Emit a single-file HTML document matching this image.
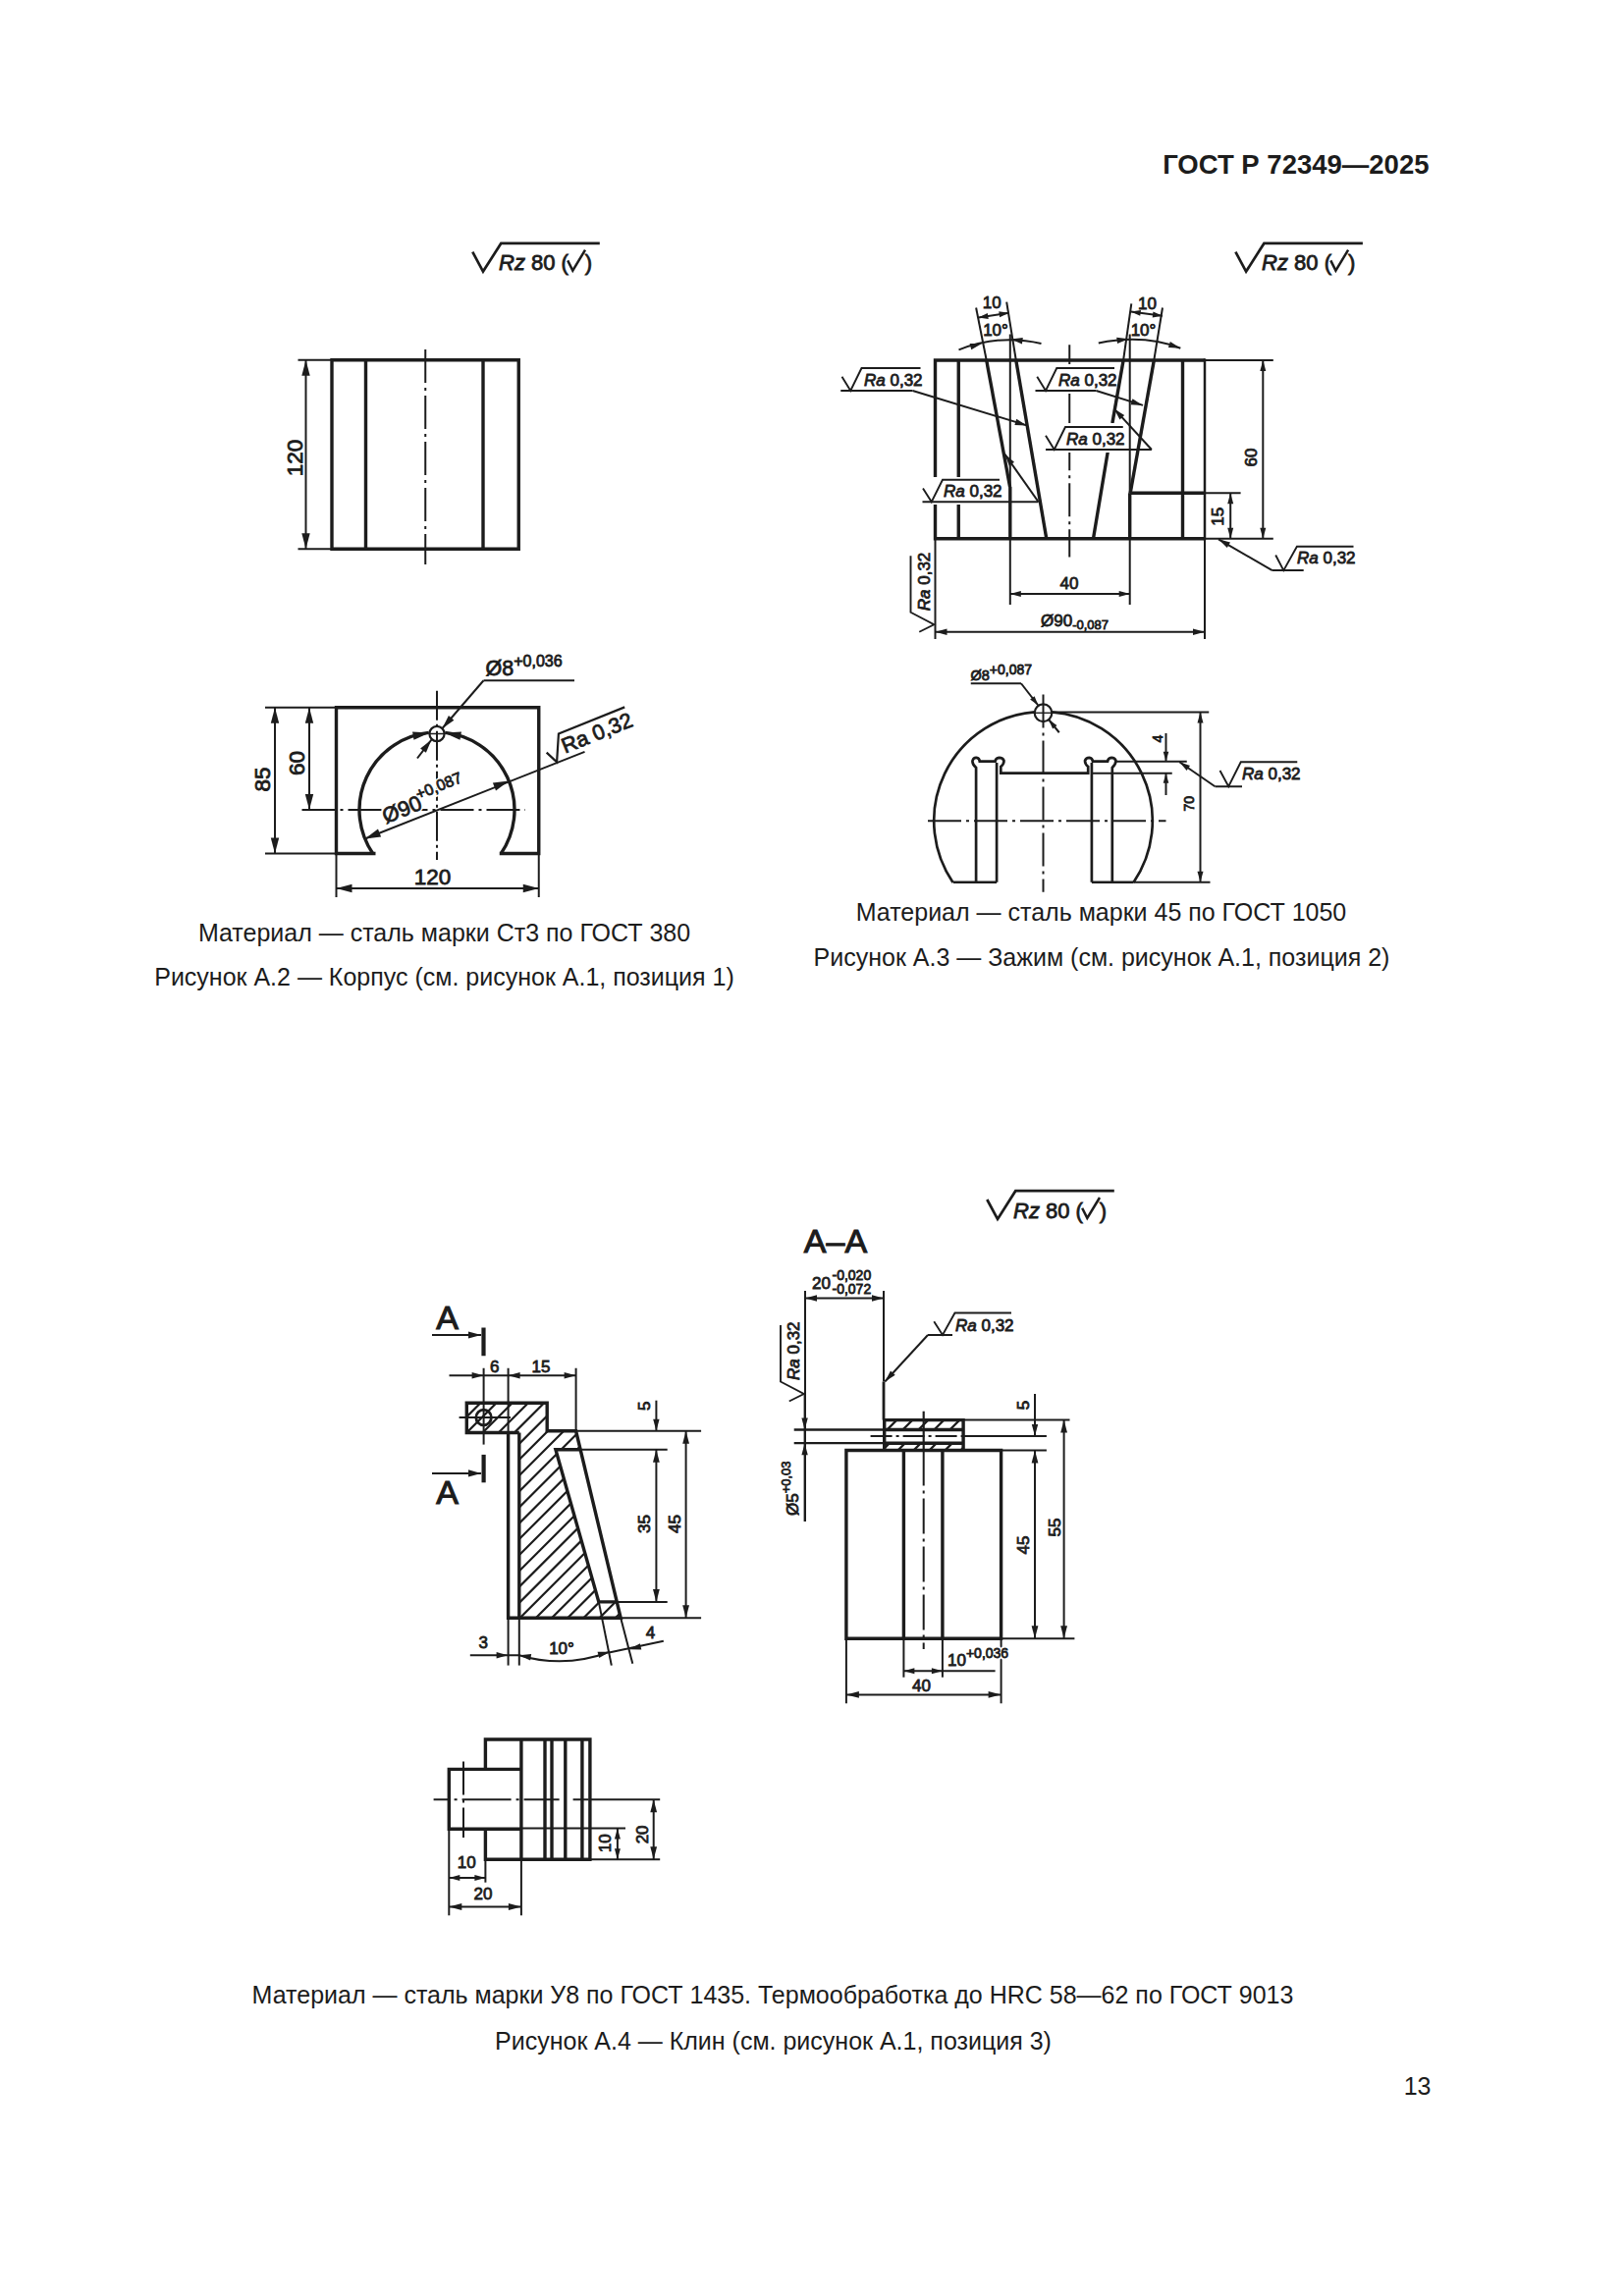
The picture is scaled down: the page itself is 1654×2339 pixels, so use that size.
<!DOCTYPE html>
<html><head><meta charset="utf-8"><style>
html,body{margin:0;padding:0;background:#fff;}
svg{display:block;}
text{font-family:"Liberation Sans",sans-serif;fill:#1c1c1c;stroke:none;}
text.d{stroke:#1c1c1c;stroke-width:0.8px;}
text.h{fill:#fff;stroke:#fff;stroke-width:4px;}
</style></head><body>
<svg width="1654" height="2339" viewBox="0 0 1654 2339" stroke="#1c1c1c" stroke-linecap="butt" fill="none">
<rect x="0" y="0" width="1654" height="2339" fill="#fff" stroke="none"/>
<g stroke="#1c1c1c">
<text x="1455.5" y="177" class="c" font-size="27.5" text-anchor="end" font-weight="bold">ГОСТ Р 72349—2025</text>
<path d="M481.3 256.7 L492 276.6 L510.3 247.9 L610.8 247.9" stroke-width="2.7" fill="none"/>
<text class="d" x="508" y="275.2" font-size="22"><tspan font-style="italic">Rz</tspan> 80 (</text>
<text class="d" x="595.8" y="275.2" font-size="22">)</text>
<path d="M578.2 265.4 L583.3 275.6 L596 254.7" stroke-width="2.5" fill="none"/>
<path d="M338 366.75 L528.25 366.75 L528.25 559.25 L338 559.25 Z" stroke-width="3.4" fill="none"/>
<line x1="372.5" y1="366.75" x2="372.5" y2="559.25" stroke-width="3.4"/>
<line x1="492" y1="366.75" x2="492" y2="559.25" stroke-width="3.4"/>
<line x1="433.25" y1="356" x2="433.25" y2="575" stroke-width="2.0" stroke-dasharray="34 5 3 5"/>
<line x1="303.5" y1="366.75" x2="338" y2="366.75" stroke-width="2.0"/>
<line x1="303.5" y1="559.25" x2="338" y2="559.25" stroke-width="2.0"/>
<line x1="311.5" y1="366.75" x2="311.5" y2="559.25" stroke-width="2.0"/>
<path d="M311.5 366.75 L315.7 382.75 L307.3 382.75 Z" stroke="none" fill="#1c1c1c"/>
<path d="M311.5 559.25 L307.3 543.25 L315.7 543.25 Z" stroke="none" fill="#1c1c1c"/>
<text transform="translate(307.7 466.6) rotate(-90)" class="d" font-size="22.5" text-anchor="middle" font-weight="normal">120</text>
<path d="M382.5 869.5 L342.5 869.5 L342.5 720.75 L548.75 720.75 L548.75 869.5 L508.75 869.5" stroke-width="3.4" fill="none"/>
<path d="M379.72 869.49 A79 79 0 0 1 436.74 746.43" stroke-width="3.4" fill="none"/>
<path d="M453.26 746.43 A79 79 0 0 1 510.28 869.49" stroke-width="3.4" fill="none"/>
<path d="M437.5 746.5 L421.53 753.67 L420.02 745.41 Z" stroke="none" fill="#1c1c1c"/>
<path d="M452.5 746.5 L469.98 745.41 L468.47 753.67 Z" stroke="none" fill="#1c1c1c"/>
<circle cx="445" cy="747.5" r="7.6" stroke-width="2.2" fill="none"/>
<line x1="437" y1="747.5" x2="453" y2="747.5" stroke-width="1.5"/>
<line x1="307.5" y1="825" x2="535" y2="825" stroke-width="2.0" stroke-dasharray="34 5 3 5"/>
<line x1="445" y1="703.75" x2="445" y2="876" stroke-width="2.0" stroke-dasharray="30 4 3 4"/>
<line x1="270" y1="720.75" x2="342.5" y2="720.75" stroke-width="2.0"/>
<line x1="270" y1="869.5" x2="342.5" y2="869.5" stroke-width="2.0"/>
<line x1="280" y1="720.75" x2="280" y2="869.5" stroke-width="2.0"/>
<path d="M280 720.75 L284.2 736.75 L275.8 736.75 Z" stroke="none" fill="#1c1c1c"/>
<path d="M280 869.5 L275.8 853.5 L284.2 853.5 Z" stroke="none" fill="#1c1c1c"/>
<line x1="315" y1="720.75" x2="315" y2="825" stroke-width="2.0"/>
<path d="M315 720.75 L319.2 736.75 L310.8 736.75 Z" stroke="none" fill="#1c1c1c"/>
<path d="M315 825 L310.8 809 L319.2 809 Z" stroke="none" fill="#1c1c1c"/>
<text transform="translate(274.5 794) rotate(-90)" class="d" font-size="22.5" text-anchor="middle" font-weight="normal">85</text>
<text transform="translate(310 777.5) rotate(-90)" class="d" font-size="22.5" text-anchor="middle" font-weight="normal">60</text>
<line x1="342.5" y1="869.5" x2="342.5" y2="914" stroke-width="2.0"/>
<line x1="548.75" y1="869.5" x2="548.75" y2="914" stroke-width="2.0"/>
<line x1="342.5" y1="905" x2="548.75" y2="905" stroke-width="2.0"/>
<path d="M342.5 905 L358.5 900.8 L358.5 909.2 Z" stroke="none" fill="#1c1c1c"/>
<path d="M548.75 905 L532.75 909.2 L532.75 900.8 Z" stroke="none" fill="#1c1c1c"/>
<text x="440.5" y="900.8" class="d" font-size="22.5" text-anchor="middle" font-weight="normal">120</text>
<line x1="371.7" y1="854.47" x2="595.5" y2="765.9" stroke-width="2.0"/>
<path d="M371.7 854.47 L384.98 844.6 L388.11 852.4 Z" stroke="none" fill="#1c1c1c"/>
<path d="M518.3 795.53 L505.02 805.4 L501.89 797.6 Z" stroke="none" fill="#1c1c1c"/>
<text class="h" transform="translate(445 825) rotate(-21.9)" font-size="21.8"><tspan x="-53.5" y="-6.2">Ø90</tspan><tspan x="-13.8" y="-16.5" font-size="16">+0,087</tspan></text>
<text class="d" transform="translate(445 825) rotate(-21.9)" font-size="21.8"><tspan x="-53.5" y="-6.2">Ø90</tspan><tspan x="-13.8" y="-16.5" font-size="16">+0,087</tspan></text>
<g transform="translate(567.1 776.4) rotate(-21.9)"><path d="M-6 -13 L0 0 L12.5 -26.2 L85 -26.2" stroke-width="2.2" fill="none"/><text class="d" x="11" y="-5" font-size="21.7">Ra 0,32</text></g>
<line x1="492.5" y1="693.25" x2="585" y2="693.25" stroke-width="2.0"/>
<line x1="492.5" y1="693.25" x2="450.5" y2="742" stroke-width="2.0"/>
<path d="M450.5 742 L456.91 729.04 L462.37 733.74 Z" stroke="none" fill="#1c1c1c"/>
<line x1="439.5" y1="753.5" x2="425" y2="772.5" stroke-width="2.0"/>
<path d="M439.5 753.5 L433.87 766.81 L428.14 762.45 Z" stroke="none" fill="#1c1c1c"/>
<text class="d" x="494.5" y="687.5" font-size="21.5">Ø8<tspan font-size="16" dy="-9">+0,036</tspan></text>
<text x="452.5" y="958.5" class="c" font-size="25" text-anchor="middle" font-weight="normal">Материал — сталь марки Ст3 по ГОСТ 380</text>
<text x="452.5" y="1004" class="c" font-size="25" text-anchor="middle" font-weight="normal">Рисунок А.2 — Корпус (см. рисунок А.1, позиция 1)</text>
<path d="M1258.4 256.7 L1269.1 276.6 L1287.4 247.9 L1387.9 247.9" stroke-width="2.7" fill="none"/>
<text class="d" x="1285.1" y="275.2" font-size="22"><tspan font-style="italic">Rz</tspan> 80 (</text>
<text class="d" x="1372.9" y="275.2" font-size="22">)</text>
<path d="M1355.3 265.4 L1360.4 275.6 L1373.1 254.7" stroke-width="2.5" fill="none"/>
<path d="M1227 367 L952.5 367 L952.5 548.75 L1227 548.75" stroke-width="3.4" fill="none"/>
<line x1="1227" y1="365.3" x2="1227" y2="550.45" stroke-width="2.5"/>
<line x1="976.25" y1="367" x2="976.25" y2="548.75" stroke-width="3.4"/>
<line x1="1204.5" y1="367" x2="1204.5" y2="548.75" stroke-width="3.4"/>
<line x1="994.1" y1="313.5" x2="1004.7" y2="367" stroke-width="2.0"/>
<line x1="1004.7" y1="367" x2="1028.6" y2="496" stroke-width="3.4"/>
<line x1="1028.8" y1="340.5" x2="1028.8" y2="496" stroke-width="2.0"/>
<line x1="1028.8" y1="496" x2="1028.8" y2="548.75" stroke-width="3.4"/>
<line x1="1028.8" y1="548.75" x2="1028.8" y2="616" stroke-width="2.0"/>
<line x1="1025.2" y1="307.6" x2="1034.8" y2="367" stroke-width="2.0"/>
<line x1="1034.8" y1="367" x2="1065.8" y2="548.75" stroke-width="3.4"/>
<line x1="1152.3" y1="309.4" x2="1144.1" y2="367" stroke-width="2.0"/>
<line x1="1144.1" y1="367" x2="1132.9" y2="431.1" stroke-width="3.4"/>
<line x1="1128.2" y1="460.5" x2="1113.5" y2="548.75" stroke-width="3.4"/>
<line x1="1150.7" y1="340.5" x2="1150.7" y2="502.2" stroke-width="2.0"/>
<line x1="1150.7" y1="502.2" x2="1150.7" y2="548.75" stroke-width="3.4"/>
<line x1="1150.7" y1="548.75" x2="1150.7" y2="616" stroke-width="2.0"/>
<line x1="1184" y1="313.5" x2="1175.2" y2="367.6" stroke-width="2.0"/>
<line x1="1175.2" y1="367.6" x2="1151.2" y2="502.2" stroke-width="3.4"/>
<line x1="1150.7" y1="502.2" x2="1227" y2="502.2" stroke-width="3.4"/>
<line x1="1227" y1="502.2" x2="1263.6" y2="502.2" stroke-width="2.0"/>
<line x1="1089.25" y1="351.25" x2="1089.25" y2="567.5" stroke-width="2.0" stroke-dasharray="34 5 3 5"/>
<line x1="996.4" y1="323.5" x2="1027.6" y2="318.8" stroke-width="2.0"/>
<path d="M996.4 323.5 L1005.84 319.04 L1006.74 324.98 Z" stroke="none" fill="#1c1c1c"/>
<path d="M1027.6 318.8 L1018.16 323.26 L1017.26 317.32 Z" stroke="none" fill="#1c1c1c"/>
<text x="1010.3" y="314" class="d" font-size="17" text-anchor="middle" font-weight="normal">10</text>
<text x="1014" y="342.3" class="d" font-size="17" text-anchor="middle" font-weight="normal">10°</text>
<line x1="1151.7" y1="317.6" x2="1184" y2="321.7" stroke-width="2.0"/>
<path d="M1151.7 317.6 L1162 315.88 L1161.24 321.84 Z" stroke="none" fill="#1c1c1c"/>
<path d="M1184 321.7 L1173.7 323.42 L1174.46 317.46 Z" stroke="none" fill="#1c1c1c"/>
<text x="1168.5" y="314.7" class="d" font-size="17" text-anchor="middle" font-weight="normal">10</text>
<text x="1164.5" y="342.3" class="d" font-size="17" text-anchor="middle" font-weight="normal">10°</text>
<path d="M976.5 356.4 Q1018 340 1060.5 350" stroke-width="2.0" fill="none"/>
<path d="M1000 350 L989.26 356.24 L987.58 350.07 Z" stroke="none" fill="#1c1c1c"/>
<path d="M1029.5 345.5 L1041.84 344.06 L1040.92 350.39 Z" stroke="none" fill="#1c1c1c"/>
<path d="M1118.8 349.4 Q1165 340 1202.3 354.7" stroke-width="2.0" fill="none"/>
<path d="M1149.5 345.3 L1138.03 350.06 L1137.18 343.72 Z" stroke="none" fill="#1c1c1c"/>
<path d="M1202.3 354.7 L1189.89 354.11 L1191.84 348.01 Z" stroke="none" fill="#1c1c1c"/>
<line x1="1227" y1="367" x2="1296.8" y2="367" stroke-width="2.0"/>
<line x1="1227" y1="548.75" x2="1296.8" y2="548.75" stroke-width="2.0"/>
<line x1="1286.3" y1="367" x2="1286.3" y2="548.75" stroke-width="2.0"/>
<path d="M1286.3 367 L1289.3 378 L1283.3 378 Z" stroke="none" fill="#1c1c1c"/>
<path d="M1286.3 548.75 L1283.3 537.75 L1289.3 537.75 Z" stroke="none" fill="#1c1c1c"/>
<text transform="translate(1280 466) rotate(-90)" class="d" font-size="17" text-anchor="middle" font-weight="normal">60</text>
<line x1="1253.2" y1="502.2" x2="1253.2" y2="548.75" stroke-width="2.0"/>
<path d="M1253.2 502.2 L1256.2 513.2 L1250.2 513.2 Z" stroke="none" fill="#1c1c1c"/>
<path d="M1253.2 548.75 L1250.2 537.75 L1256.2 537.75 Z" stroke="none" fill="#1c1c1c"/>
<text transform="translate(1245.5 526.3) rotate(-90)" class="d" font-size="17" text-anchor="middle" font-weight="normal">15</text>
<line x1="1227" y1="548.75" x2="1227" y2="651" stroke-width="2.0"/>
<line x1="952.5" y1="548.75" x2="952.5" y2="651" stroke-width="2.0"/>
<line x1="1028.8" y1="605" x2="1150.7" y2="605" stroke-width="2.0"/>
<path d="M1028.8 605 L1039.8 602 L1039.8 608 Z" stroke="none" fill="#1c1c1c"/>
<path d="M1150.7 605 L1139.7 608 L1139.7 602 Z" stroke="none" fill="#1c1c1c"/>
<text x="1089" y="600" class="d" font-size="17" text-anchor="middle" font-weight="normal">40</text>
<line x1="952.5" y1="643.75" x2="1227" y2="643.75" stroke-width="2.0"/>
<path d="M952.5 643.75 L964.5 640.55 L964.5 646.95 Z" stroke="none" fill="#1c1c1c"/>
<path d="M1227 643.75 L1215 646.95 L1215 640.55 Z" stroke="none" fill="#1c1c1c"/>
<text class="d" x="1060" y="638" font-size="17">Ø90<tspan font-size="13" dy="3">-0,087</tspan></text>
<path d="M857.5 383.75 L866.25 398 L877.5 375 L937.5 375" stroke-width="1.9" fill="none"/>
<text class="d" x="880" y="392.5" font-size="17"><tspan font-style="italic">Ra</tspan> 0,32</text>
<line x1="856.25" y1="398" x2="929.5" y2="398" stroke-width="2.0"/>
<line x1="929.5" y1="398" x2="1045.8" y2="433.4" stroke-width="2.0"/>
<path d="M1045.8 433.4 L1033.39 432.97 L1035.25 426.84 Z" stroke="none" fill="#1c1c1c"/>
<rect x="1053" y="371" width="83" height="30" fill="#fff" stroke="none"/>
<path d="M1056.25 383.75 L1065 398 L1076.25 375 L1135 375" stroke-width="1.9" fill="none"/>
<text class="d" x="1078" y="392.5" font-size="17"><tspan font-style="italic">Ra</tspan> 0,32</text>
<line x1="1054.5" y1="398" x2="1116.4" y2="398" stroke-width="2.0"/>
<line x1="1116.4" y1="398" x2="1164" y2="412.9" stroke-width="2.0"/>
<path d="M1164 412.9 L1151.59 412.37 L1153.5 406.26 Z" stroke="none" fill="#1c1c1c"/>
<rect x="1063" y="431" width="82" height="30" fill="#fff" stroke="none"/>
<path d="M1065 443.75 L1073.75 458 L1085 435 L1143.75 435" stroke-width="1.9" fill="none"/>
<text class="d" x="1086" y="452.5" font-size="17"><tspan font-style="italic">Ra</tspan> 0,32</text>
<line x1="1065" y1="458" x2="1172.9" y2="458" stroke-width="2.0"/>
<line x1="1172.9" y1="458" x2="1134.7" y2="416.4" stroke-width="2.0"/>
<path d="M1134.7 416.4 L1145.17 423.07 L1140.46 427.4 Z" stroke="none" fill="#1c1c1c"/>
<rect x="937" y="486" width="83" height="28" fill="#fff" stroke="none"/>
<path d="M940 497.5 L948.75 511.25 L960 488.75 L1018 488.75" stroke-width="1.9" fill="none"/>
<text class="d" x="961" y="506.25" font-size="17"><tspan font-style="italic">Ra</tspan> 0,32</text>
<line x1="939.5" y1="511.25" x2="1057.6" y2="511.25" stroke-width="2.0"/>
<line x1="1057.6" y1="511.25" x2="1023.5" y2="462.8" stroke-width="2.0"/>
<path d="M1023.5 462.8 L1033.02 470.77 L1027.79 474.45 Z" stroke="none" fill="#1c1c1c"/>
<line x1="1241" y1="549.3" x2="1295.8" y2="581.1" stroke-width="2.0"/>
<path d="M1241 549.3 L1252.99 552.56 L1249.77 558.09 Z" stroke="none" fill="#1c1c1c"/>
<path d="M1299.2 565.5 L1307.3 581.1 L1320.9 556.7 L1378.5 556.7" stroke-width="1.9" fill="none"/>
<text class="d" x="1321" y="574.4" font-size="17"><tspan font-style="italic">Ra</tspan> 0,32</text>
<line x1="1295.8" y1="581.1" x2="1327.7" y2="581.1" stroke-width="2.0"/>
<g transform="translate(951.25 636.25) rotate(-90)"><path d="M-7.5 -15 L0 0 L12.5 -23.75 L70 -23.75" stroke-width="1.9" fill="none"/><text class="d" x="14" y="-4" font-size="17"><tspan font-style="italic">Ra</tspan> 0,32</text></g>
<path d="M970.53 898.93 A111.3 111.3 0 0 1 1053.77 725.29" stroke-width="2.7" fill="none"/>
<path d="M1071.23 725.29 A111.3 111.3 0 0 1 1154.47 898.93" stroke-width="2.7" fill="none"/>
<line x1="970.8" y1="898.75" x2="1015.1" y2="898.75" stroke-width="2.7"/>
<line x1="1111.9" y1="898.75" x2="1154.2" y2="898.75" stroke-width="2.7"/>
<line x1="1154.2" y1="898.75" x2="1232.5" y2="898.75" stroke-width="2.0"/>
<path d="M994.1 898.75 L994.1 782 Q990 778.5 990.5 775 Q991.5 771.5 994.5 771.8 Q997.5 772.2 997.8 775.7 L1013.5 775.7 Q1014 772 1017.5 771.8 Q1021.5 771.8 1022.5 775 Q1022.5 778.5 1019.3 781 L1019.3 787.7 L1108.2 787.7 L1108.2 781 Q1105 778.5 1105 775 Q1106 771.8 1109.5 771.8 Q1112.5 772 1113 775.7 L1128 775.7 Q1128.5 772 1132 771.8 Q1135.5 771.8 1136.5 775 Q1136.5 778.5 1132.8 782 L1132.8 898.75" stroke-width="2.7" fill="none"/>
<line x1="1015.1" y1="777" x2="1015.1" y2="898.75" stroke-width="2.7"/>
<line x1="1111.9" y1="777" x2="1111.9" y2="898.75" stroke-width="2.7"/>
<line x1="1136" y1="775.7" x2="1208.75" y2="775.7" stroke-width="2.0"/>
<line x1="1111.9" y1="787.7" x2="1193.75" y2="787.7" stroke-width="2.0"/>
<circle cx="1062.5" cy="726.25" r="8.8" stroke-width="2.2" fill="none"/>
<line x1="1052" y1="726.25" x2="1073" y2="726.25" stroke-width="1.4"/>
<line x1="945" y1="836.25" x2="1187.5" y2="836.25" stroke-width="2.0" stroke-dasharray="34 5 3 5"/>
<line x1="1062.5" y1="707.5" x2="1062.5" y2="908.75" stroke-width="2.0" stroke-dasharray="34 5 3 5"/>
<line x1="1071.5" y1="725.5" x2="1231.25" y2="725.5" stroke-width="2.0"/>
<line x1="1222.5" y1="725.5" x2="1222.5" y2="898.75" stroke-width="2.0"/>
<path d="M1222.5 725.5 L1225.5 736.5 L1219.5 736.5 Z" stroke="none" fill="#1c1c1c"/>
<path d="M1222.5 898.75 L1219.5 887.75 L1225.5 887.75 Z" stroke="none" fill="#1c1c1c"/>
<text transform="translate(1215.5 818.75) rotate(-90)" class="d" font-size="14" text-anchor="middle" font-weight="normal">70</text>
<line x1="1187.5" y1="747" x2="1187.5" y2="776" stroke-width="2.0"/>
<path d="M1187.5 775.7 L1184.7 765.7 L1190.3 765.7 Z" stroke="none" fill="#1c1c1c"/>
<line x1="1187.5" y1="787.7" x2="1187.5" y2="810" stroke-width="2.0"/>
<path d="M1187.5 787.7 L1190.3 797.7 L1184.7 797.7 Z" stroke="none" fill="#1c1c1c"/>
<text transform="translate(1184 752.5) rotate(-90)" class="d" font-size="14" text-anchor="middle" font-weight="normal">4</text>
<line x1="1201.25" y1="776.25" x2="1237.5" y2="801.25" stroke-width="2.0"/>
<path d="M1201.25 776.25 L1212.01 780.03 L1208.6 784.96 Z" stroke="none" fill="#1c1c1c"/>
<path d="M1242.5 785 L1251.25 801.25 L1263.75 776.25 L1321.25 776.25" stroke-width="1.9" fill="none"/>
<text class="d" x="1265" y="793.75" font-size="17"><tspan font-style="italic">Ra</tspan> 0,32</text>
<line x1="1237.5" y1="801.25" x2="1265" y2="801.25" stroke-width="2.0"/>
<line x1="988.75" y1="696.25" x2="1040" y2="696.25" stroke-width="2.0"/>
<line x1="1040" y1="696.25" x2="1057.5" y2="718.75" stroke-width="2.0"/>
<path d="M1057.5 718.75 L1049.15 712.58 L1053.57 709.14 Z" stroke="none" fill="#1c1c1c"/>
<line x1="1068" y1="733" x2="1078.75" y2="746.25" stroke-width="2.0"/>
<path d="M1068 733 L1076.47 739 L1072.13 742.53 Z" stroke="none" fill="#1c1c1c"/>
<text class="d" x="988.5" y="692.5" font-size="14.5">Ø8<tspan font-size="14" dy="-6">+0,087</tspan></text>
<text x="1121.5" y="938" class="c" font-size="25" text-anchor="middle" font-weight="normal">Материал — сталь марки 45 по ГОСТ 1050</text>
<text x="1122" y="984" class="c" font-size="25" text-anchor="middle" font-weight="normal">Рисунок А.3 — Зажим (см. рисунок А.1, позиция 2)</text>
<path d="M1005.3 1222 L1016 1241.9 L1034.3 1213.2 L1134.8 1213.2" stroke-width="2.7" fill="none"/>
<text class="d" x="1032" y="1240.5" font-size="22"><tspan font-style="italic">Rz</tspan> 80 (</text>
<text class="d" x="1119.8" y="1240.5" font-size="22">)</text>
<path d="M1102.2 1230.7 L1107.3 1240.9 L1120 1220" stroke-width="2.5" fill="none"/>
<text x="851" y="1275.5" class="d" font-size="34" text-anchor="middle" font-weight="normal" style="stroke-width:1.1px">А–А</text>
<text x="455.5" y="1353.75" class="d" font-size="34" text-anchor="middle" font-weight="normal" style="stroke-width:1.1px">А</text>
<text x="455.5" y="1531.9" class="d" font-size="34" text-anchor="middle" font-weight="normal" style="stroke-width:1.1px">А</text>
<line x1="440" y1="1360" x2="490" y2="1360" stroke-width="2.0"/>
<path d="M490 1360 L477 1363.6 L477 1356.4 Z" stroke="none" fill="#1c1c1c"/>
<line x1="492.5" y1="1352.5" x2="492.5" y2="1381.25" stroke-width="4.2"/>
<line x1="440" y1="1500.9" x2="490" y2="1500.9" stroke-width="2.0"/>
<path d="M490 1500.9 L477 1504.5 L477 1497.3 Z" stroke="none" fill="#1c1c1c"/>
<line x1="492.6" y1="1481.9" x2="492.6" y2="1510.3" stroke-width="4.2"/>
<defs><clipPath id="h1"><path d="M475.3 1429.3 L557.2 1429.3 L557.2 1457.8 L586.6 1457.8 L632.2 1648.3 L528.8 1648.3 L528.8 1459.5 L475.3 1459.5 Z"/></clipPath><clipPath id="h2"><path d="M565.9 1476.7 L609.8 1631.9 L632.2 1648.3 L700 1800 L700 1400 Z"/></clipPath></defs>
<g clip-path="url(#h1)"><path d="M460 1069.8 L660 869.8 M460 1086 L660 886 M460 1102.2 L660 902.2 M460 1118.4 L660 918.4 M460 1134.6 L660 934.6 M460 1150.8 L660 950.8 M460 1167 L660 967 M460 1183.2 L660 983.2 M460 1199.4 L660 999.4 M460 1215.6 L660 1015.6 M460 1231.8 L660 1031.8 M460 1248 L660 1048 M460 1264.2 L660 1064.2 M460 1280.4 L660 1080.4 M460 1296.6 L660 1096.6 M460 1312.8 L660 1112.8 M460 1329 L660 1129 M460 1345.2 L660 1145.2 M460 1361.4 L660 1161.4 M460 1377.6 L660 1177.6 M460 1393.8 L660 1193.8 M460 1410 L660 1210 M460 1426.2 L660 1226.2 M460 1442.4 L660 1242.4 M460 1458.6 L660 1258.6 M460 1474.8 L660 1274.8 M460 1491 L660 1291 M460 1507.2 L660 1307.2 M460 1523.4 L660 1323.4 M460 1539.6 L660 1339.6 M460 1555.8 L660 1355.8 M460 1572 L660 1372 M460 1588.2 L660 1388.2 M460 1604.4 L660 1404.4 M460 1620.6 L660 1420.6 M460 1636.8 L660 1436.8 M460 1653 L660 1453 M460 1669.2 L660 1469.2 M460 1685.4 L660 1485.4 M460 1701.6 L660 1501.6 M460 1717.8 L660 1517.8 M460 1734 L660 1534 M460 1750.2 L660 1550.2 M460 1766.4 L660 1566.4 M460 1782.6 L660 1582.6 M460 1798.8 L660 1598.8 M460 1815 L660 1615 M460 1831.2 L660 1631.2 M460 1847.4 L660 1647.4 M460 1863.6 L660 1663.6 M460 1879.8 L660 1679.8 M460 1896 L660 1696 M460 1912.2 L660 1712.2 M460 1928.4 L660 1728.4 M460 1944.6 L660 1744.6 M460 1960.8 L660 1760.8 M460 1977 L660 1777 M460 1993.2 L660 1793.2 M460 2009.4 L660 1809.4 M460 2025.6 L660 1825.6 M460 2041.8 L660 1841.8 M460 2058 L660 1858 M460 2074.2 L660 1874.2 M460 2090.4 L660 1890.4 M460 2106.6 L660 1906.6 M460 2122.8 L660 1922.8 M460 2139 L660 1939 M460 2155.2 L660 1955.2 M460 2171.4 L660 1971.4 M460 2187.6 L660 1987.6 M460 2203.8 L660 2003.8 M460 2220 L660 2020 M460 2236.2 L660 2036.2 M460 2252.4 L660 2052.4 M460 2268.6 L660 2068.6 M460 2284.8 L660 2084.8 M460 2301 L660 2101 M460 2317.2 L660 2117.2 M460 2333.4 L660 2133.4 M460 2349.6 L660 2149.6" stroke-width="2.2" fill="none"/></g>
<path d="M565.9 1476.7 L591.1 1476.7 L628.3 1631.9 L609.8 1631.9 Z" fill="#fff" stroke="none"/>
<path d="M528.8 1459.5 L475.3 1459.5 L475.3 1429.3 L557.2 1429.3 L557.2 1457.8 L586.6 1457.8 L632.2 1648.3 L517.6 1648.3 L517.6 1459.5" stroke-width="3.4" fill="none"/>
<line x1="528.8" y1="1459.5" x2="528.8" y2="1648.3" stroke-width="3.4"/>
<path d="M591.1 1476.7 L565.9 1476.7 L609.8 1631.9 L628.3 1631.9" stroke-width="3.4" fill="none"/>
<circle cx="492.6" cy="1444" r="7.8" stroke-width="2.8" fill="none"/>
<line x1="467.6" y1="1444" x2="520" y2="1444" stroke-width="2.0"/>
<line x1="492.6" y1="1393.75" x2="492.6" y2="1471.6" stroke-width="2.0"/>
<line x1="517.6" y1="1393.75" x2="517.6" y2="1459.5" stroke-width="2.0"/>
<line x1="586.6" y1="1393.75" x2="586.6" y2="1457.8" stroke-width="2.0"/>
<line x1="517.6" y1="1648.3" x2="517.6" y2="1696.6" stroke-width="2.0"/>
<line x1="528.8" y1="1648.3" x2="528.8" y2="1696.6" stroke-width="2.0"/>
<line x1="609.8" y1="1631.9" x2="622.8" y2="1696.6" stroke-width="2.0"/>
<line x1="632.2" y1="1648.3" x2="644.3" y2="1694.8" stroke-width="2.0"/>
<line x1="457.5" y1="1401.25" x2="517.6" y2="1401.25" stroke-width="2.0"/>
<path d="M492.6 1401.25 L480.6 1404.45 L480.6 1398.05 Z" stroke="none" fill="#1c1c1c"/>
<line x1="517.6" y1="1401.25" x2="586.6" y2="1401.25" stroke-width="2.0"/>
<path d="M517.6 1401.25 L529.6 1398.05 L529.6 1404.45 Z" stroke="none" fill="#1c1c1c"/>
<path d="M586.6 1401.25 L574.6 1404.45 L574.6 1398.05 Z" stroke="none" fill="#1c1c1c"/>
<text x="503.7" y="1397.5" class="d" font-size="17" text-anchor="middle" font-weight="normal">6</text>
<text x="551" y="1397.5" class="d" font-size="17" text-anchor="middle" font-weight="normal">15</text>
<line x1="586.6" y1="1457.8" x2="714.1" y2="1457.8" stroke-width="2.0"/>
<line x1="632.2" y1="1648.3" x2="714.1" y2="1648.3" stroke-width="2.0"/>
<line x1="591.1" y1="1476.7" x2="679.7" y2="1476.7" stroke-width="2.0"/>
<line x1="628.3" y1="1631.9" x2="679.7" y2="1631.9" stroke-width="2.0"/>
<line x1="698.6" y1="1457.8" x2="698.6" y2="1648.3" stroke-width="2.0"/>
<path d="M698.6 1457.8 L702 1470.8 L695.2 1470.8 Z" stroke="none" fill="#1c1c1c"/>
<path d="M698.6 1648.3 L695.2 1635.3 L702 1635.3 Z" stroke="none" fill="#1c1c1c"/>
<line x1="668.4" y1="1476.7" x2="668.4" y2="1631.9" stroke-width="2.0"/>
<path d="M668.4 1476.7 L671.8 1489.7 L665 1489.7 Z" stroke="none" fill="#1c1c1c"/>
<path d="M668.4 1631.9 L665 1618.9 L671.8 1618.9 Z" stroke="none" fill="#1c1c1c"/>
<line x1="668.4" y1="1426.7" x2="668.4" y2="1457.8" stroke-width="2.0"/>
<path d="M668.4 1457.8 L665.2 1445.8 L671.6 1445.8 Z" stroke="none" fill="#1c1c1c"/>
<text transform="translate(693.4 1552.5) rotate(-90)" class="d" font-size="17" text-anchor="middle" font-weight="normal">45</text>
<text transform="translate(662.4 1552.5) rotate(-90)" class="d" font-size="17" text-anchor="middle" font-weight="normal">35</text>
<text transform="translate(662.4 1432.3) rotate(-90)" class="d" font-size="17" text-anchor="middle" font-weight="normal">5</text>
<line x1="478.8" y1="1686.2" x2="528.8" y2="1686.2" stroke-width="2.0"/>
<path d="M517.6 1686.2 L505.6 1689.4 L505.6 1683 Z" stroke="none" fill="#1c1c1c"/>
<text x="492.2" y="1679.3" class="d" font-size="17" text-anchor="middle" font-weight="normal">3</text>
<path d="M528.8 1686.2 Q575 1700 621 1682.8" stroke-width="2.0" fill="none"/>
<path d="M528.8 1686.2 L541.17 1685.09 L540.08 1691.4 Z" stroke="none" fill="#1c1c1c"/>
<path d="M621 1682.8 L610.21 1688.94 L608.58 1682.75 Z" stroke="none" fill="#1c1c1c"/>
<text x="572" y="1684.5" class="d" font-size="17" text-anchor="middle" font-weight="normal">10°</text>
<line x1="675.8" y1="1671.7" x2="620.3" y2="1683.5" stroke-width="2.0"/>
<path d="M640.9 1680.2 L651.77 1674.19 L653.32 1680.39 Z" stroke="none" fill="#1c1c1c"/>
<text x="662.4" y="1669" class="d" font-size="17" text-anchor="middle" font-weight="normal">4</text>
<text x="852.5" y="1312.5" class="d" font-size="17" text-anchor="middle" font-weight="normal"></text>
<text class="d" x="827" y="1312.5" font-size="17">20<tspan font-size="14" x="847.5" y="1303.5">-0,020</tspan><tspan font-size="14" x="847.5" y="1317.5">-0,072</tspan></text>
<line x1="820" y1="1315" x2="820" y2="1550" stroke-width="2.0"/>
<line x1="900" y1="1315" x2="900" y2="1407.5" stroke-width="2.0"/>
<line x1="900" y1="1407.5" x2="900" y2="1446.6" stroke-width="2.8"/>
<line x1="820" y1="1322.5" x2="900" y2="1322.5" stroke-width="2.0"/>
<path d="M820 1322.5 L832 1319.3 L832 1325.7 Z" stroke="none" fill="#1c1c1c"/>
<path d="M900 1322.5 L888 1325.7 L888 1319.3 Z" stroke="none" fill="#1c1c1c"/>
<g transform="translate(818.75 1420) rotate(-90)"><path d="M-7.5 -15 L0 0 L12.5 -23.75 L70 -23.75" stroke-width="1.9" fill="none"/><text class="d" x="14" y="-5" font-size="17"><tspan font-style="italic">Ra</tspan> 0,32</text></g>
<path d="M951.25 1346.25 L960 1360 L972.5 1337.5 L1030 1337.5" stroke-width="1.9" fill="none"/>
<text class="d" x="973" y="1356.25" font-size="17"><tspan font-style="italic">Ra</tspan> 0,32</text>
<line x1="945" y1="1360" x2="970" y2="1360" stroke-width="2.0"/>
<line x1="945" y1="1360" x2="901.25" y2="1407.5" stroke-width="2.0"/>
<path d="M901.25 1407.5 L907.03 1396.51 L911.73 1400.84 Z" stroke="none" fill="#1c1c1c"/>
<defs><clipPath id="h3"><path d="M900.7 1446.6 H981.1 V1456.5 H900.7 Z M900.7 1470.2 H981.1 V1477.5 H900.7 Z"/></clipPath></defs>
<g clip-path="url(#h3)"><path d="M880 1480 L914 1446 M896 1480 L930 1446 M912 1480 L946 1446 M928 1480 L962 1446 M944 1480 L978 1446 M960 1480 L994 1446 M976 1480 L1010 1446 M992 1480 L1026 1446 M1008 1480 L1042 1446 M1024 1480 L1058 1446 M1040 1480 L1074 1446 M1056 1480 L1090 1446 M1072 1480 L1106 1446 M1088 1480 L1122 1446" stroke-width="2.3" fill="none"/></g>
<path d="M900.7 1477.5 L900.7 1446.6 L981.1 1446.6 L981.1 1477.5" stroke-width="3.4" fill="none"/>
<line x1="900.7" y1="1456.5" x2="981.1" y2="1456.5" stroke-width="3.4"/>
<line x1="900.7" y1="1470.2" x2="981.1" y2="1470.2" stroke-width="3.4"/>
<line x1="808.7" y1="1456.5" x2="900.7" y2="1456.5" stroke-width="2.3"/>
<line x1="808.7" y1="1470.2" x2="900.7" y2="1470.2" stroke-width="2.3"/>
<line x1="886.6" y1="1463" x2="981" y2="1463" stroke-width="2.0" stroke-dasharray="22 4 3 4"/>
<line x1="981" y1="1463" x2="1065.9" y2="1463" stroke-width="2.0"/>
<path d="M861.9 1477.5 L1019.6 1477.5 L1019.6 1669.3 L861.9 1669.3 Z" stroke-width="3.4" fill="none"/>
<line x1="920.4" y1="1477.5" x2="920.4" y2="1669.3" stroke-width="3.4"/>
<line x1="959.9" y1="1477.5" x2="959.9" y2="1669.3" stroke-width="3.4"/>
<line x1="940.7" y1="1437.7" x2="940.7" y2="1477.5" stroke-width="2.2"/>
<line x1="940.7" y1="1477.5" x2="940.7" y2="1680" stroke-width="2.0" stroke-dasharray="36 5 3 5"/>
<line x1="981.1" y1="1446.6" x2="1089.5" y2="1446.6" stroke-width="2.0"/>
<line x1="1019.6" y1="1477.5" x2="1065.9" y2="1477.5" stroke-width="2.0"/>
<line x1="1019.6" y1="1669.3" x2="1094.4" y2="1669.3" stroke-width="2.0"/>
<line x1="1083.6" y1="1446.6" x2="1083.6" y2="1669.3" stroke-width="2.0"/>
<path d="M1083.6 1446.6 L1087 1459.6 L1080.2 1459.6 Z" stroke="none" fill="#1c1c1c"/>
<path d="M1083.6 1669.3 L1080.2 1656.3 L1087 1656.3 Z" stroke="none" fill="#1c1c1c"/>
<line x1="1054" y1="1477.5" x2="1054" y2="1669.3" stroke-width="2.0"/>
<path d="M1054 1477.5 L1057.4 1490.5 L1050.6 1490.5 Z" stroke="none" fill="#1c1c1c"/>
<path d="M1054 1669.3 L1050.6 1656.3 L1057.4 1656.3 Z" stroke="none" fill="#1c1c1c"/>
<line x1="1054" y1="1420" x2="1054" y2="1463" stroke-width="2.0"/>
<path d="M1054 1463 L1050.8 1451 L1057.2 1451 Z" stroke="none" fill="#1c1c1c"/>
<text transform="translate(1079.7 1556) rotate(-90)" class="d" font-size="17" text-anchor="middle" font-weight="normal">55</text>
<text transform="translate(1048.1 1574) rotate(-90)" class="d" font-size="17" text-anchor="middle" font-weight="normal">45</text>
<text transform="translate(1048.1 1431.5) rotate(-90)" class="d" font-size="17" text-anchor="middle" font-weight="normal">5</text>
<line x1="819.6" y1="1420" x2="819.6" y2="1550" stroke-width="2.0"/>
<path d="M819.6 1456.5 L816.4 1444.5 L822.8 1444.5 Z" stroke="none" fill="#1c1c1c"/>
<path d="M819.6 1470.2 L822.8 1482.2 L816.4 1482.2 Z" stroke="none" fill="#1c1c1c"/>
<text class="d" transform="translate(812.7 1544) rotate(-90)" font-size="17">Ø5<tspan font-size="13" dy="-8">+0,03</tspan></text>
<line x1="861.9" y1="1669.3" x2="861.9" y2="1735.3" stroke-width="2.0"/>
<line x1="1019.6" y1="1669.3" x2="1019.6" y2="1735.3" stroke-width="2.0"/>
<line x1="920.4" y1="1669.3" x2="920.4" y2="1708.7" stroke-width="2.0"/>
<line x1="959.9" y1="1669.3" x2="959.9" y2="1708.7" stroke-width="2.0"/>
<line x1="920.4" y1="1702.2" x2="1013.6" y2="1702.2" stroke-width="2.0"/>
<path d="M920.4 1702.2 L931.4 1699.2 L931.4 1705.2 Z" stroke="none" fill="#1c1c1c"/>
<path d="M959.9 1702.2 L948.9 1705.2 L948.9 1699.2 Z" stroke="none" fill="#1c1c1c"/>
<text class="h" x="965" y="1697" font-size="17">10<tspan font-size="14" dy="-8">+0,036</tspan></text>
<text class="d" x="965" y="1697" font-size="17">10<tspan font-size="14" dy="-8">+0,036</tspan></text>
<line x1="861.9" y1="1726.4" x2="1019.6" y2="1726.4" stroke-width="2.0"/>
<path d="M861.9 1726.4 L874.9 1723 L874.9 1729.8 Z" stroke="none" fill="#1c1c1c"/>
<path d="M1019.6 1726.4 L1006.6 1729.8 L1006.6 1723 Z" stroke="none" fill="#1c1c1c"/>
<text x="938.5" y="1722.5" class="d" font-size="17" text-anchor="middle" font-weight="normal">40</text>
<path d="M494.4 1802.4 L494.4 1772 L600.9 1772 L600.9 1894.2 L494.4 1894.2 L494.4 1863.3" stroke-width="3.4" fill="none"/>
<path d="M530.9 1802.4 L457.3 1802.4 L457.3 1863.3 L530.9 1863.3" stroke-width="3.4" fill="none"/>
<line x1="530.9" y1="1772" x2="530.9" y2="1894.2" stroke-width="3.4"/>
<line x1="555" y1="1772" x2="555" y2="1894.2" stroke-width="3.4"/>
<line x1="562" y1="1772" x2="562" y2="1894.2" stroke-width="3.4"/>
<line x1="575.8" y1="1772" x2="575.8" y2="1894.2" stroke-width="3.4"/>
<line x1="592.9" y1="1772" x2="592.9" y2="1894.2" stroke-width="3.4"/>
<line x1="441.6" y1="1833.3" x2="600.9" y2="1833.3" stroke-width="2.0" stroke-dasharray="15 6 3 5 50 5 3 5 36 14 16"/>
<line x1="600.9" y1="1833.3" x2="672.2" y2="1833.3" stroke-width="2.0"/>
<line x1="472" y1="1794.4" x2="472" y2="1872" stroke-width="2.0" stroke-dasharray="34 5 3 5"/>
<line x1="530.9" y1="1862.5" x2="637" y2="1862.5" stroke-width="2.0"/>
<line x1="600.9" y1="1894.2" x2="672.2" y2="1894.2" stroke-width="2.0"/>
<line x1="628.9" y1="1862.5" x2="628.9" y2="1894.2" stroke-width="2.0"/>
<path d="M628.9 1862.5 L631.9 1873.5 L625.9 1873.5 Z" stroke="none" fill="#1c1c1c"/>
<path d="M628.9 1894.2 L625.9 1883.2 L631.9 1883.2 Z" stroke="none" fill="#1c1c1c"/>
<line x1="665.7" y1="1833.3" x2="665.7" y2="1894.2" stroke-width="2.0"/>
<path d="M665.7 1833.3 L669.1 1846.3 L662.3 1846.3 Z" stroke="none" fill="#1c1c1c"/>
<path d="M665.7 1894.2 L662.3 1881.2 L669.1 1881.2 Z" stroke="none" fill="#1c1c1c"/>
<text transform="translate(621.7 1877.7) rotate(-90)" class="d" font-size="17" text-anchor="middle" font-weight="normal">10</text>
<text transform="translate(660.1 1868.9) rotate(-90)" class="d" font-size="17" text-anchor="middle" font-weight="normal">20</text>
<line x1="457.3" y1="1863.3" x2="457.3" y2="1951.3" stroke-width="2.0"/>
<line x1="494.4" y1="1894.2" x2="494.4" y2="1917.7" stroke-width="2.0"/>
<line x1="530.9" y1="1894.2" x2="530.9" y2="1951.3" stroke-width="2.0"/>
<line x1="457.3" y1="1912.9" x2="494.4" y2="1912.9" stroke-width="2.0"/>
<path d="M457.3 1912.9 L468.3 1909.9 L468.3 1915.9 Z" stroke="none" fill="#1c1c1c"/>
<path d="M494.4 1912.9 L483.4 1915.9 L483.4 1909.9 Z" stroke="none" fill="#1c1c1c"/>
<line x1="457.3" y1="1942.5" x2="530.9" y2="1942.5" stroke-width="2.0"/>
<path d="M457.3 1942.5 L470.3 1939.1 L470.3 1945.9 Z" stroke="none" fill="#1c1c1c"/>
<path d="M530.9 1942.5 L517.9 1945.9 L517.9 1939.1 Z" stroke="none" fill="#1c1c1c"/>
<text x="475.2" y="1903.3" class="d" font-size="17" text-anchor="middle" font-weight="normal">10</text>
<text x="492" y="1935.3" class="d" font-size="17" text-anchor="middle" font-weight="normal">20</text>
<text x="787" y="2041.2" class="c" font-size="25" text-anchor="middle" font-weight="normal">Материал — сталь марки У8 по ГОСТ 1435. Термообработка до HRC 58—62 по ГОСТ 9013</text>
<text x="787.5" y="2087.6" class="c" font-size="25" text-anchor="middle" font-weight="normal">Рисунок А.4 — Клин (см. рисунок А.1, позиция 3)</text>
<text x="1457.5" y="2134.1" class="c" font-size="25" text-anchor="end" font-weight="normal">13</text>
</g>
</svg>
</body></html>
